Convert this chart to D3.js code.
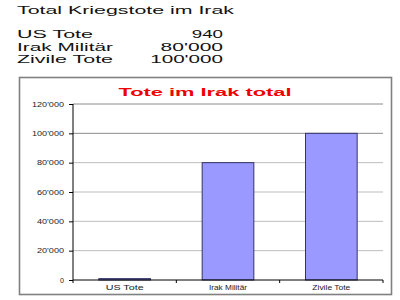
<!DOCTYPE html>
<html><head><meta charset="utf-8">
<script src="https://cdn.jsdelivr.net/npm/d3@7"></script>
<style>html,body{margin:0;padding:0;background:#fff}svg{display:block}</style>
</head><body>
<svg id="c" width="400" height="300"></svg>
<script>
const pageTitle = "Total Kriegstote im Irak";
const categories = ["US Tote", "Irak Militär", "Zivile Tote"];
const values = [940, 80000, 100000];
const yTicks = [0, 20000, 40000, 60000, 80000, 100000, 120000];
const chartTitle = "Tote im Irak total";

const loc = d3.formatLocale({decimal: ".", thousands: "'", grouping: [3], currency: ["", ""]});
const fmt = loc.format(",d");

const svg = d3.select("#c");
const font = "Arial, 'Liberation Sans', sans-serif";

// header text block
svg.append("text").attr("x", 17).attr("y", 13.5).attr("font-family", font)
  .attr("font-size", 10.5).attr("fill", "#111").attr("textLength", 217)
  .attr("lengthAdjust", "spacingAndGlyphs").text(pageTitle);
const rowY = [38, 50.5, 63];
const labW = [76, 96, 96];
categories.forEach((c, i) => {
  svg.append("text").attr("x", 17).attr("y", rowY[i]).attr("font-family", font)
    .attr("font-size", 10).attr("fill", "#111").attr("textLength", labW[i])
    .attr("lengthAdjust", "spacingAndGlyphs").text(c);
  const s = fmt(values[i]);
  const w = s.length * 10.4;
  svg.append("text").attr("x", 223 - w).attr("y", rowY[i]).attr("font-family", font)
    .attr("font-size", 10).attr("fill", "#111").attr("textLength", w)
    .attr("lengthAdjust", "spacingAndGlyphs").text(s);
});

// chart frame
svg.append("rect").attr("x", 19.5).attr("y", 77.5).attr("width", 372).attr("height", 217)
  .attr("fill", "#fff").attr("stroke", "#808080").attr("stroke-width", 1.6);

const pL = 73, pR = 383, pT = 104, pB = 280;
const x = d3.scaleBand().domain(categories).range([pL, pR]).paddingInner(0.5).paddingOuter(0.25);
const y = d3.scaleLinear().domain([0, 120000]).range([pB, pT]);

// gridlines
svg.append("g").selectAll("line").data(yTicks.filter(d => d > 0)).join("line")
  .attr("x1", pL).attr("x2", pR).attr("y1", d => y(d)).attr("y2", d => y(d))
  .attr("stroke", d => d >= 100000 ? "#8c8c8c" : "#bdbdbd").attr("stroke-width", 1);

// bars
svg.append("g").selectAll("rect").data(values).join("rect")
  .attr("x", (d, i) => x(categories[i])).attr("width", x.bandwidth())
  .attr("y", d => y(d)).attr("height", d => Math.max(1, pB - y(d)))
  .attr("fill", "#9999ff").attr("stroke", "#333366").attr("stroke-width", 1);

// y axis
const yAxis = d3.axisLeft(y).tickValues(yTicks).tickFormat(fmt).tickSize(4).tickPadding(5);
const gy = svg.append("g").attr("transform", `translate(${pL},0)`).call(yAxis);
gy.select(".domain").attr("stroke", "#000").attr("d", `M0,${pT}V${pB}`);
gy.selectAll(".tick line").attr("stroke", "#000");
gy.selectAll(".tick text").attr("font-family", font).attr("font-size", 6.5).attr("fill", "#222")
  .attr("textLength", d => d === 0 ? 4 : (d >= 100000 ? 32 : 27)).attr("lengthAdjust", "spacingAndGlyphs");

// x axis
const gx = svg.append("g").attr("transform", `translate(0,${pB})`);
gx.append("line").attr("x1", pL).attr("x2", pR).attr("stroke", "#000");
const bounds = d3.range(categories.length + 1).map(i => pL + i * (pR - pL) / categories.length);
gx.selectAll(".bt").data(bounds).join("line").attr("class", "bt")
  .attr("x1", d => d).attr("x2", d => d).attr("y1", 0).attr("y2", 3).attr("stroke", "#000");
gx.selectAll(".xl").data(categories).join("text").attr("class", "xl")
  .attr("x", d => x(d) + x.bandwidth() / 2).attr("y", 9.5).attr("text-anchor", "middle")
  .attr("font-family", font).attr("font-size", 6.5).attr("fill", "#222")
  .attr("textLength", 38).attr("lengthAdjust", "spacingAndGlyphs").text(d => d);

// chart title
svg.append("text").attr("x", 205).attr("y", 95.5).attr("text-anchor", "middle")
  .attr("font-family", font).attr("font-weight", "bold").attr("font-size", 10.5)
  .attr("fill", "#ee0000").attr("textLength", 173).attr("lengthAdjust", "spacingAndGlyphs")
  .text(chartTitle);
</script>
</body></html>
